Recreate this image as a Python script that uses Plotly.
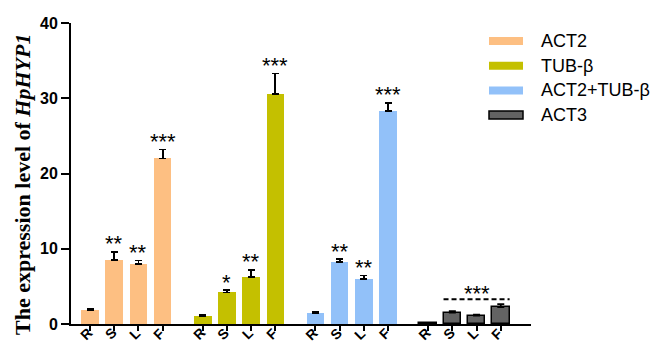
import plotly.graph_objects as go

# Relative expression of HpHYP1 in four tissues, normalised with four reference genes
tissues = ["R", "S", "L", "F"]
references = ["ACT2", "TUB-β", "ACT2+TUB-β", "ACT3"]

act2_mean = [1.8, 8.5, 8.0, 22.0]
act2_sd = [0.15, 1.1, 0.45, 1.2]
tub_mean = [1.05, 4.2, 6.2, 30.6]
tub_sd = [0.1, 0.3, 1.0, 2.7]
combo_mean = [1.45, 8.2, 5.95, 28.3]
combo_sd = [0.15, 0.4, 0.5, 1.1]
act3_mean = [0.1, 1.5, 1.1, 2.25]
act3_sd = [0.05, 0.2, 0.15, 0.4]

act2_sig = ["", "**", "**", "***"]
tub_sig = ["", "*", "**", "***"]
combo_sig = ["", "**", "**", "***"]
act3_sig = "***"

means = [act2_mean, tub_mean, combo_mean, act3_mean]
sds = [act2_sd, tub_sd, combo_sd, act3_sd]
sigs = [act2_sig, tub_sig, combo_sig, None]
colors = ["#FDBF82", "#C4C000", "#92C1F9", "#636363"]
outlines = [None, None, None, "#000000"]

W, H = 654, 343
L_PX, R_PX, T_PX, B_PX = 71, 531, 23, 324
GROUP_STEP = 4.657
BAR_W = 0.73
X_RANGE = [-0.785, 18.22]


def px_to_paper(x, y):
    return (x - L_PX) / (R_PX - L_PX), (B_PX - y) / (B_PX - T_PX)


fig = go.Figure()
tickvals = []
annotations = []
shapes = []

for g, name in enumerate(references):
    xs = [g * GROUP_STEP + i for i in range(len(tissues))]
    tickvals += xs
    fig.add_trace(go.Bar(
        x=xs, y=means[g], name=name, width=BAR_W,
        marker=dict(color=colors[g],
                    line=dict(color=outlines[g] or colors[g],
                              width=1.5 if outlines[g] else 0)),
        error_y=dict(type="data", symmetric=False, array=sds[g],
                     arrayminus=[0] * len(sds[g]), color="#000000",
                     thickness=1.8, width=3.5),
        showlegend=False,
    ))
    # slanted tissue labels under each bar
    for x, t in zip(xs, tissues):
        annotations.append(dict(
            x=x, y=0, xref="x", yref="y", text=t, showarrow=False,
            textangle=-45, xanchor="center", yanchor="middle",
            xshift=-4, yshift=-9.5,
            font=dict(family="Liberation Sans", size=14, color="#000000", weight="bold"),
        ))
    if sigs[g] is not None:
        for x, m, s, lab in zip(xs, means[g], sds[g], sigs[g]):
            if lab:
                annotations.append(dict(
                    x=x, y=m + s, xref="x", yref="y", text=lab,
                    showarrow=False, yanchor="middle", yshift=8,
                    font=dict(family="Liberation Sans", size=22, color="#000000"),
                ))
    else:
        # one bracket over S, L and F of the last group
        top = max(m + s for m, s in zip(means[g][1:], sds[g][1:])) + 0.65
        shapes.append(dict(
            type="line", xref="x", yref="y",
            x0=xs[1] - BAR_W / 2, x1=xs[-1] + BAR_W / 2, y0=top, y1=top,
            line=dict(color="#000000", width=2, dash="5px,3px"),
        ))
        annotations.append(dict(
            x=(xs[1] + xs[-1]) / 2, y=top, xref="x", yref="y", text=act3_sig,
            showarrow=False, yanchor="middle", yshift=6,
            font=dict(family="Liberation Sans", size=22, color="#000000"),
        ))

# legend drawn as wide swatches with labels
legend_y0, legend_step = 41, 24.7
for k, name in enumerate(references):
    yc = legend_y0 + k * legend_step
    xa, ya = px_to_paper(489, yc - 4)
    xb, yb = px_to_paper(523, yc + 4)
    shapes.append(dict(
        type="rect", xref="paper", yref="paper", x0=xa, x1=xb, y0=yb, y1=ya,
        fillcolor=colors[k],
        line=dict(color=outlines[k] or colors[k], width=1.5 if outlines[k] else 0),
    ))
    tx, ty = px_to_paper(539, yc)
    annotations.append(dict(
        x=tx, y=ty, xref="paper", yref="paper", text=name, showarrow=False,
        xanchor="left", yanchor="middle",
        font=dict(family="Liberation Sans", size=18, color="#000000"),
    ))

# y-axis title
tx, ty = px_to_paper(22, 185)
annotations.append(dict(
    x=tx, y=ty, xref="paper", yref="paper", textangle=-90, showarrow=False,
    text="<b>The expression level of <i>HpHYP1</i></b>",
    xanchor="center", yanchor="middle",
    font=dict(family="Liberation Serif", size=22, color="#000000"),
))

fig.update_layout(
    width=W, height=H,
    margin=dict(l=L_PX, r=W - R_PX, t=T_PX, b=H - B_PX, autoexpand=False),
    paper_bgcolor="#FFFFFF", plot_bgcolor="#FFFFFF",
    bargap=0, barmode="overlay",
    annotations=annotations, shapes=shapes,
    xaxis=dict(
        range=X_RANGE, tickvals=tickvals, showticklabels=False,
        showline=True, linecolor="#000000", linewidth=2,
        ticks="outside", ticklen=5, tickwidth=1.5, tickcolor="#000000",
        showgrid=False, zeroline=False, automargin=False,
    ),
    yaxis=dict(
        range=[0, 40], tickvals=[0, 10, 20, 30, 40],
        showline=True, linecolor="#000000", linewidth=2,
        ticks="outside", ticklen=8, tickwidth=2, tickcolor="#000000",
        showgrid=False, zeroline=False, automargin=False,
        tickfont=dict(family="Liberation Sans", size=16, color="#000000", weight="bold"),
    ),
)

fig.write_html("out.html")
